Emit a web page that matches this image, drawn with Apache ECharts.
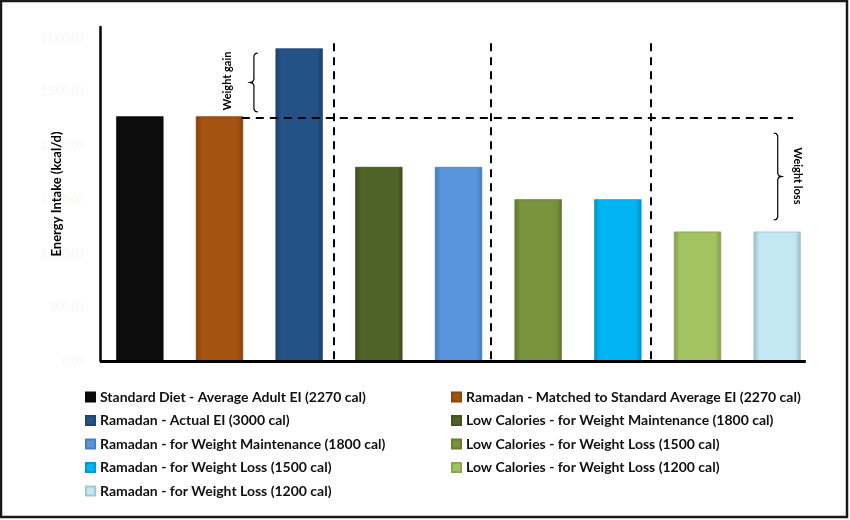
<!DOCTYPE html>
<html>
<head>
<meta charset="utf-8">
<script src="https://cdn.jsdelivr.net/npm/echarts@6/dist/echarts.min.js"></script>
<style>html,body{margin:0;padding:0;background:#fff;}#c{width:850px;height:520px;}</style>
</head>
<body>
<div id="c"></div>
<script>
// ---- data ----
const seriesNames = [
  'Standard Diet - Average Adult EI (2270 cal)',
  'Ramadan - Matched to Standard Average EI (2270 cal)',
  'Ramadan - Actual EI (3000 cal)',
  'Low Calories - for Weight Maintenance (1800 cal)',
  'Ramadan - for Weight Maintenance (1800 cal)',
  'Low Calories - for Weight Loss (1500 cal)',
  'Ramadan - for Weight Loss (1500 cal)',
  'Low Calories - for Weight Loss (1200 cal)',
  'Ramadan - for Weight Loss (1200 cal)'
];
const values = [2270, 2270, 2900, 1800, 1800, 1500, 1500, 1200, 1200];
const colors = ['#0c0c0c', '#a4520f', '#245186', '#4f6228', '#5895dc', '#77933c', '#00b5f2', '#a3c260', '#c2e8f4'];
const yTicks = [0, 500, 1000, 1500, 2000, 2500, 3000];
const yAxisName = 'Energy Intake (kcal/d)';
const leftLegend = [0, 2, 4, 6, 8];
const rightLegend = [1, 3, 5, 7];

function shade(hex, f) {
  const n = parseInt(hex.slice(1), 16);
  let r = (n >> 16) & 255, g = (n >> 8) & 255, b = n & 255;
  r = Math.round(r * f); g = Math.round(g * f); b = Math.round(b * f);
  return 'rgb(' + Math.min(255, r) + ',' + Math.min(255, g) + ',' + Math.min(255, b) + ')';
}
function grad(c) {
  return new echarts.graphic.LinearGradient(0, 0, 1, 0, [
    { offset: 0, color: shade(c, 0.8) },
    { offset: 0.12, color: c },
    { offset: 0.88, color: c },
    { offset: 1, color: shade(c, 0.8) }
  ]);
}

const chart = echarts.init(document.getElementById('c'));
const FONT = 'Lato, "Open Sans", sans-serif';

const series = seriesNames.map((name, i) => ({
  name: name,
  type: 'bar',
  stack: 'all',
  barWidth: 47,
  xAxisIndex: 0,
  yAxisIndex: 0,
  itemStyle: { color: grad(colors[i]), borderColor: shade(colors[i], 0.85), borderWidth: 0.5 },
  data: values.map((v, j) => (j === i ? v : null))
}));

const dash = { type: [8, 6], width: 2, color: '#000' };
series.push({
  type: 'line',
  xAxisIndex: 1,
  yAxisIndex: 0,
  data: [[0, 0]],
  showSymbol: false,
  symbolSize: 0,
  lineStyle: { opacity: 0 },
  silent: true,
  markLine: {
    silent: true,
    symbol: 'none',
    label: { show: false },
    lineStyle: dash,
    data: [
      [{ coord: [2.93, 2950] }, { coord: [2.93, 0] }],
      [{ coord: [4.9, 2950] }, { coord: [4.9, 0] }],
      [{ coord: [6.91, 2950] }, { coord: [6.91, 0] }],
      [{ coord: [1.78, 2255] }, { coord: [8.7, 2255] }],
      [{ coord: [0, 0], lineStyle: { type: 'solid', width: 3, color: '#000' } },
       { coord: [8.86, 0] }]
    ]
  }
});

const legendBase = {
  orient: 'vertical',
  top: 389,
  padding: 0,
  itemWidth: 9,
  itemHeight: 9,
  itemGap: 7.5,
  icon: 'rect',
  textStyle: { fontFamily: FONT, fontSize: 14, fontWeight: 'bold', color: '#111', lineHeight: 16 },
  selectedMode: false
};

chart.setOption({
  animation: false,
  backgroundColor: '#fff',
  grid: { left: 100, right: 33, top: 27, bottom: 159, containLabel: false },
  xAxis: [
    { type: 'category', data: seriesNames, axisLine: { show: false }, axisTick: { show: false }, axisLabel: { show: false } },
    { type: 'value', min: 0, max: 9, show: false }
  ],
  yAxis: {
    type: 'value',
    min: 0,
    max: 3100,
    interval: 500,
    splitLine: { show: false },
    axisTick: { show: false },
    axisLine: { show: true, lineStyle: { color: '#000', width: 2.5 } },
    axisLabel: {
      showMaxLabel: false,
      margin: 16,
      color: '#f5f5f1',
      fontFamily: FONT,
      fontSize: 11,
      formatter: v => (yTicks.indexOf(v) >= 0 ? v.toLocaleString('en-US', { minimumFractionDigits: 2, maximumFractionDigits: 2 }) : '')
    }
  },
  legend: [
    Object.assign({}, legendBase, { left: 85, data: leftLegend.map(i => seriesNames[i]) }),
    Object.assign({}, legendBase, { left: 451, data: rightLegend.map(i => seriesNames[i]) })
  ],
  series: series
});

// annotations (braces + labels) placed through the axes
function px(v, y) { return chart.convertToPixel({ xAxisIndex: 1, yAxisIndex: 0 }, [v, y]); }
function brace(v, yTop, yBot, dir) {
  const a = px(v, yTop), b = px(v, yBot);
  const x = a[0], y1 = a[1], y2 = b[1], ym = (y1 + y2) / 2;
  const h = 4 * dir; // hooks direction (+: right)
  const pts = [
    [x + h, y1], [x + h * 0.35, y1 + 0.6], [x, y1 + 3],
    [x, ym - 3], [x - h * 0.35, ym - 0.6], [x - h, ym],
    [x - h * 0.35, ym + 0.6], [x, ym + 3],
    [x, y2 - 3], [x + h * 0.35, y2 - 0.6], [x + h, y2]
  ];
  return { type: 'polyline', shape: { points: pts }, style: { stroke: '#000', lineWidth: 1.2, fill: null }, silent: true };
}
function vlabel(v, y, text, rot, size) {
  const p = px(v, y);
  return {
    type: 'text', x: p[0], y: p[1], rotation: rot, silent: true, z: 100,
    style: { text: text, fontFamily: FONT, fontSize: size || 11, fontWeight: 'bold', fill: '#000', align: 'center', verticalAlign: 'middle' }
  };
}
const p0 = px(0, 1550);
chart.setOption({
  graphic: [
    { type: 'rect', shape: { x: 1, y: 1, width: 846, height: 516 }, style: { stroke: '#1a1a1a', lineWidth: 2.5, fill: null }, silent: true },
    brace(1.932, 2859, 2311, 1),
    vlabel(1.606, 2600, 'Weight gain', Math.PI / 2),
    brace(8.507, 2116, 1309, -1),
    vlabel(8.758, 1717, 'Weight loss', -Math.PI / 2),
    { type: 'text', x: p0[0] - 43, y: p0[1], rotation: Math.PI / 2, silent: true, z: 100,
      style: { text: yAxisName, fontFamily: FONT, fontSize: 13, fontWeight: 'bold', fill: '#000', align: 'center', verticalAlign: 'middle' } }
  ]
});
</script>
</body>
</html>
